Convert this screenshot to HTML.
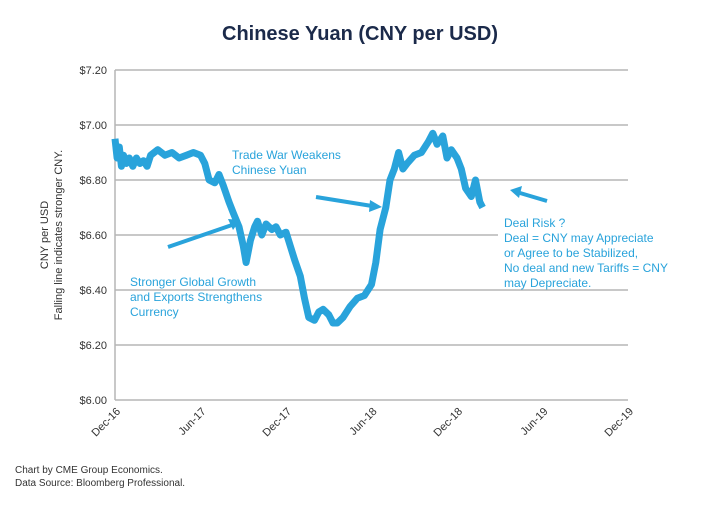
<!DOCTYPE html>
<html><head><meta charset="utf-8"><style>
body{margin:0;background:#fff;width:720px;height:500px;overflow:hidden;font-family:"Liberation Sans",sans-serif}
</style></head><body>
<svg width="720" height="500" id="chart" font-family="Liberation Sans, sans-serif">
<text x="360" y="40" text-anchor="middle" font-size="20" font-weight="bold" fill="#1b2a4a">Chinese Yuan (CNY per USD)</text>
<g id="grid"></g><g id="yt"></g><g id="xt"></g>
<text transform="translate(48,235) rotate(-90)" text-anchor="middle" font-size="11" fill="#333">CNY per  USD</text>
<text transform="translate(62,235) rotate(-90)" text-anchor="middle" font-size="11" fill="#333">Falling line indicates stronger CNY.</text>
<path id="line" fill="none" stroke="#29a3db" stroke-width="7" stroke-linejoin="round"/>
<g fill="#29a3db" font-size="12">
<text x="232" y="159">Trade War Weakens</text><text x="232" y="174">Chinese Yuan</text>
<text x="130" y="286">Stronger Global Growth</text><text x="130" y="301">and Exports Strengthens</text><text x="130" y="316">Currency</text>
<rect x="498" y="214" width="135" height="70" fill="#fff"/>
<text x="504" y="227">Deal Risk ?</text><text x="504" y="242">Deal = CNY may Appreciate</text><text x="504" y="257">or Agree to be Stabilized,</text><text x="504" y="272">No deal and new Tariffs = CNY</text><text x="504" y="287">may Depreciate.</text>
</g>
<g stroke="#29a3db" stroke-width="4" fill="#29a3db">
<line x1="168" y1="247" x2="232" y2="225"/><polygon points="240,220 228,219 233,230" stroke="none"/>
<line x1="316" y1="197" x2="372" y2="206"/><polygon points="382,207 370,200 369,212" stroke="none"/>
<line x1="547" y1="201" x2="520" y2="193"/><polygon points="510,190 522,186 519,198" stroke="none"/>
</g>
<text x="15" y="473" font-size="10" fill="#333">Chart by CME Group Economics.</text>
<text x="15" y="486" font-size="10" fill="#333">Data Source:  Bloomberg Professional.</text>
</svg>
<script>
const yTicks=[6.0,6.2,6.4,6.6,6.8,7.0,7.2];
const xLabels=["Dec-16","Jun-17","Dec-17","Jun-18","Dec-18","Jun-19","Dec-19"];
const months=[0,0.15,0.3,0.45,0.6,0.8,1,1.25,1.5,1.75,2,2.25,2.5,3,3.5,4,4.5,5,5.5,6,6.3,6.6,7,7.3,7.6,8,8.3,8.7,9,9.2,9.5,9.8,10,10.3,10.6,11,11.3,11.6,12,12.3,12.6,13,13.3,13.6,14,14.3,14.6,15,15.3,15.6,16,16.5,17,17.5,18,18.3,18.6,19,19.3,19.6,19.9,20.2,20.5,21,21.5,22,22.3,22.6,23,23.3,23.6,24,24.3,24.6,25,25.3,25.6,25.8];
const values=[6.95,6.88,6.92,6.85,6.89,6.86,6.88,6.85,6.88,6.86,6.87,6.85,6.89,6.91,6.89,6.90,6.88,6.89,6.90,6.89,6.86,6.80,6.79,6.82,6.78,6.72,6.68,6.63,6.56,6.50,6.58,6.63,6.65,6.60,6.64,6.62,6.63,6.60,6.61,6.56,6.51,6.45,6.37,6.30,6.29,6.32,6.33,6.31,6.28,6.28,6.30,6.34,6.37,6.38,6.42,6.50,6.62,6.70,6.80,6.84,6.90,6.84,6.86,6.89,6.90,6.94,6.97,6.93,6.96,6.88,6.91,6.88,6.84,6.77,6.74,6.80,6.72,6.70];
const X0=115,X1=628,Y0=400,Y1=70;
const x=m=>X0+m*(X1-X0)/36, y=v=>Y0-(v-6.0)*(Y0-Y1)/1.2;
const ns="http://www.w3.org/2000/svg";
const g=document.getElementById('grid'),yt=document.getElementById('yt'),xt=document.getElementById('xt');
yTicks.forEach(v=>{
 const l=document.createElementNS(ns,'line');
 l.setAttribute('x1',X0);l.setAttribute('x2',X1);l.setAttribute('y1',y(v));l.setAttribute('y2',y(v));
 l.setAttribute('stroke','#b5b5b5');l.setAttribute('stroke-width','1.5');
 
 
 g.appendChild(l);
 const t=document.createElementNS(ns,'text');
 t.setAttribute('x',X0-8);t.setAttribute('y',y(v)+4);t.setAttribute('text-anchor','end');t.setAttribute('font-size','11');t.setAttribute('fill','#333');
 t.textContent='$'+v.toFixed(2);
 
 
 yt.appendChild(t);
});
const ax=document.createElementNS(ns,'line');
ax.setAttribute('x1',X0);ax.setAttribute('x2',X0);ax.setAttribute('y1',Y1);ax.setAttribute('y2',Y0);ax.setAttribute('stroke','#b5b5b5');ax.setAttribute('stroke-width','1.5');


g.appendChild(ax);
xLabels.forEach((s,i)=>{
 const px=x(i*6);
 const t=document.createElementNS(ns,'text');
 t.setAttribute('transform',`translate(${px+6},${Y0+12}) rotate(-45)`);t.setAttribute('text-anchor','end');t.setAttribute('font-size','11');t.setAttribute('fill','#333');
 t.textContent=s;
 
 
 xt.appendChild(t);
});
document.getElementById('line').setAttribute('d',months.map((m,i)=>(i?'L':'M')+x(m).toFixed(1)+','+y(values[i]).toFixed(1)).join(''));
</script>
</body></html>
